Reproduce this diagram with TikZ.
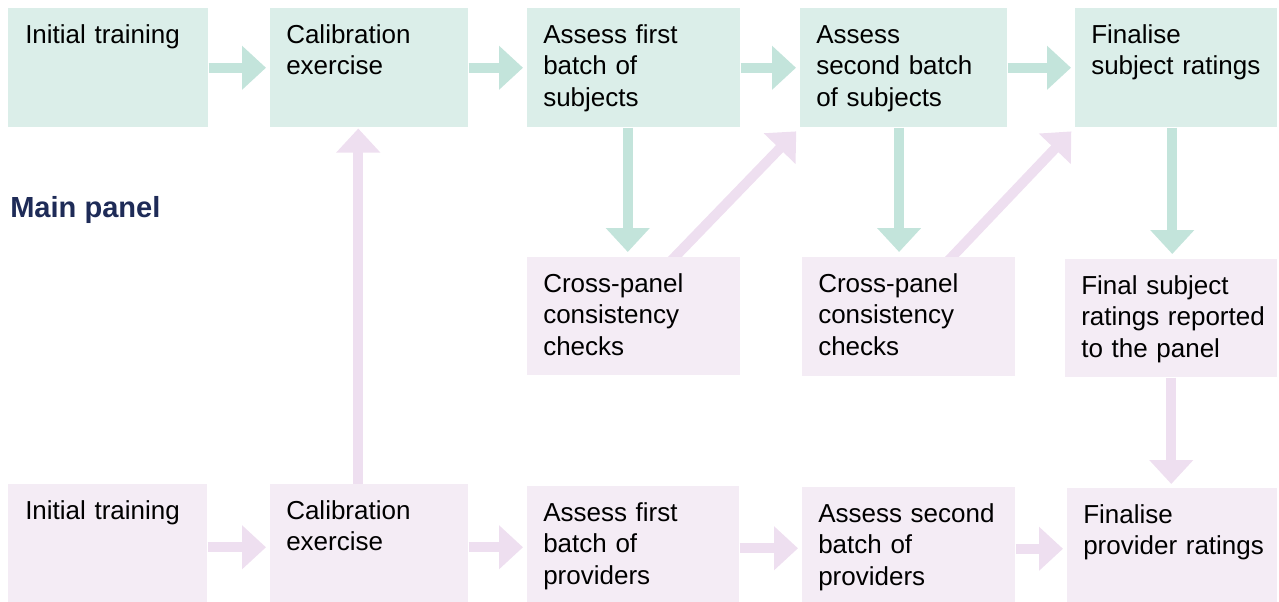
\documentclass[tikz,border=0pt]{standalone}
\usepackage{fontspec}
\setmainfont{Liberation Sans}
\usetikzlibrary{arrows.meta,calc,backgrounds}
\definecolor{tealfill}{HTML}{DBEEE9}
\definecolor{tealarrow}{HTML}{C3E4DB}
\definecolor{pinkfill}{HTML}{F4ECF5}
\definecolor{pinkarrow}{HTML}{EEDFF0}
\definecolor{navy}{HTML}{1E2B57}
\newcommand{\fl}{\rule{0pt}{26.25pt}}
\begin{document}
\begin{tikzpicture}[x=0.75pt,y=-0.75pt,
  tbox/.style={fill=tealfill, draw=none, anchor=north west, inner sep=0pt},
  pbox/.style={fill=pinkfill, draw=none, anchor=north west, inner sep=0pt},
  lbl/.style={anchor=north west, inner sep=0pt, text width=165pt, align=left,
    font=\fontsize{19.5pt}{23.6pt}\selectfont, text=black},
  tarr/.style={draw=tealarrow, line width=7.5pt,
    -{Triangle[width=32pt,length=18pt]}, shorten >=3pt},
  parr/.style={draw=pinkarrow, line width=7.5pt,
    -{Triangle[width=32pt,length=18pt]}, shorten >=3pt}]
\useasboundingbox (0,0) rectangle (1279,601);
\clip (0,0) rectangle (1279,601);

% main panel row
\node[tbox, minimum width=150pt,    minimum height=89.25pt] (a1) at (8,8) {};
\node[tbox, minimum width=148.5pt,  minimum height=89.25pt] (a2) at (270,8) {};
\node[tbox, minimum width=159.75pt, minimum height=89.25pt] (a3) at (527,8) {};
\node[tbox, minimum width=155.25pt, minimum height=89.25pt] (a4) at (800,8) {};
\node[tbox, minimum width=151.5pt,  minimum height=89.25pt] (a5) at (1075,8) {};

% middle row
\node[pbox, minimum width=159.75pt, minimum height=88.5pt]  (c1) at (527,257) {};
\node[pbox, minimum width=159.75pt, minimum height=89.25pt] (c2) at (802,257) {};
\node[pbox, minimum width=159pt,    minimum height=88.5pt]  (c3) at (1065,259) {};

% provider row
\node[pbox, minimum width=149.25pt, minimum height=94.5pt]  (d1) at (8,484) {};
\node[pbox, minimum width=148.5pt,  minimum height=94.5pt]  (d2) at (270,484) {};
\node[pbox, minimum width=159pt,    minimum height=93pt]    (d3) at (527,486) {};
\node[pbox, minimum width=159.75pt, minimum height=92.25pt] (d4) at (802,487) {};
\node[pbox, minimum width=157.5pt,  minimum height=91.5pt]  (d5) at (1067,488) {};

% box texts
\node[lbl] (a1t) at ($(a1.north west)+(17,0)$) {\fl Initial training};
\node[lbl] (a2t) at ($(a2.north west)+(16,0)$) {\fl Calibration\\exercise};
\node[lbl] (a3t) at ($(a3.north west)+(16,0)$) {\fl Assess first\\batch of\\subjects};
\node[lbl] (a4t) at ($(a4.north west)+(16,0)$) {\fl Assess\\second batch\\of subjects};
\node[lbl] (a5t) at ($(a5.north west)+(16,0)$) {\fl Finalise\\subject ratings};

\node[lbl] (c1t) at ($(c1.north west)+(16,0)$) {\fl Cross-panel\\consistency\\checks};
\node[lbl] (c2t) at ($(c2.north west)+(16,0)$) {\fl Cross-panel\\consistency\\checks};
\node[lbl] (c3t) at ($(c3.north west)+(16,0)$) {\fl Final subject\\ratings reported\\to the panel};

\node[lbl] (d1t) at ($(d1.north west)+(17,0)$) {\fl Initial training};
\node[lbl] (d2t) at ($(d2.north west)+(16,0)$) {\fl Calibration\\exercise};
\node[lbl] (d3t) at ($(d3.north west)+(16,0)$) {\fl Assess first\\batch of\\providers};
\node[lbl] (d4t) at ($(d4.north west)+(16,0)$) {\fl Assess second\\batch of\\providers};
\node[lbl] (d5t) at ($(d5.north west)+(16,0)$) {\fl Finalise\\provider ratings};

\node[anchor=base west, inner sep=0pt, text=navy,
  font=\fontsize{21.8pt}{26pt}\selectfont\bfseries] (mp) at (10,217) {Main panel};

\begin{scope}[on background layer]
  % subject flow
  \draw[tarr] (a1.east) -- (a2.west);
  \draw[tarr] (a2.east) -- (a3.west);
  \draw[tarr] (a3.east) -- (a4.west);
  \draw[tarr] (a4.east) -- (a5.west);
  \draw[tarr, shorten >=3.75pt] ([xshift=-4.5pt]a3.south) -- ([xshift=-4.5pt]a3.south |- c1.north);
  \draw[tarr, shorten >=3.75pt] ([xshift=-3.5pt]a4.south) -- ([xshift=-3.5pt]a4.south |- c2.north);
  \draw[tarr, shorten >=3.75pt] ([xshift=-3pt]a5.south) -- ([xshift=-3pt]a5.south |- c3.north);
  % consistency checks feed back
  \draw[parr, shorten >=4pt] ([xshift=25pt,yshift=-6pt]c1.north) -- (a4.south west);
  \draw[parr, shorten >=4pt] ([xshift=26.6pt,yshift=-6pt]c2.north) -- (a5.south west);
  \draw[parr, shorten >=3pt] (c3.south) -- (c3.south |- d5.north);
  % provider flow
  \draw[parr] (d1.east) -- (d2.west);
  \draw[parr] (d2.east) -- (d2.east -| d3.west);
  \draw[parr] (d3.east) -- (d3.east -| d4.west);
  \draw[parr] (d4.east) -- (d4.east -| d5.west);
  \draw[parr, shorten >=0.75pt] ([xshift=-8.25pt]d2.north) -- ([xshift=-8.25pt]d2.north |- a2.south);
\end{scope}
\end{tikzpicture}
\end{document}
